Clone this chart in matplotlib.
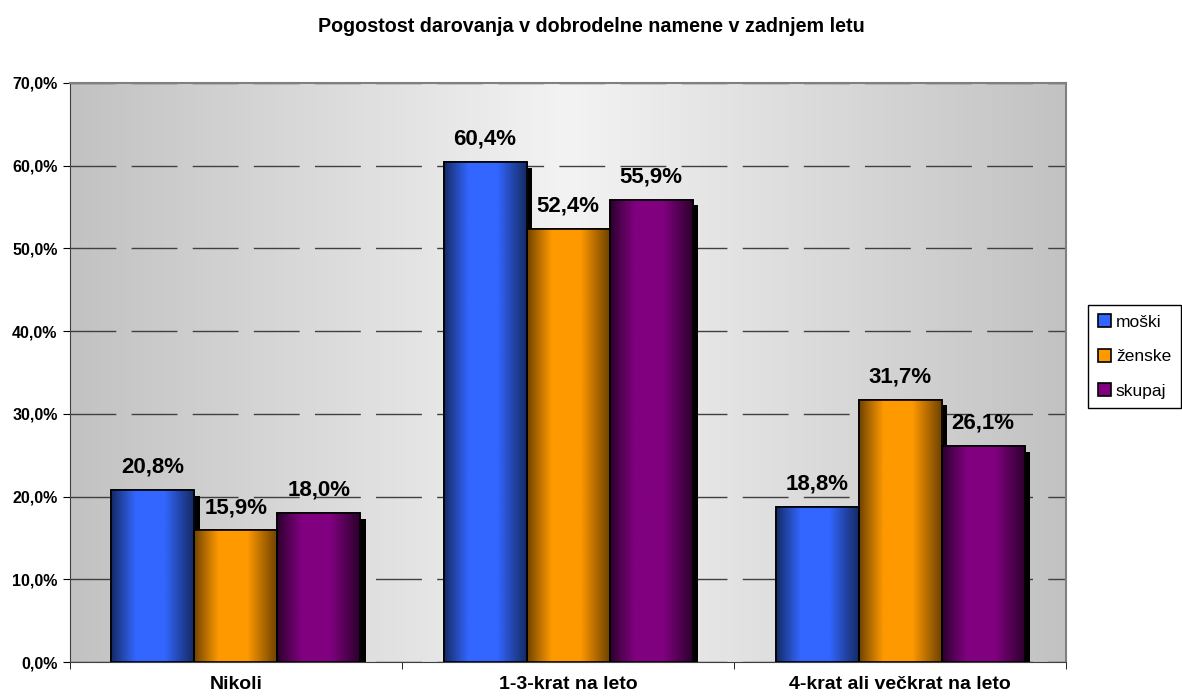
import numpy as np
import matplotlib.pyplot as plt
import matplotlib.patheffects as pe
from matplotlib.colors import LinearSegmentedColormap

# Podatki
kategorije = ['Nikoli', '1-3-krat na leto', '4-krat ali večkrat na leto']
moski = [20.8, 60.4, 18.8]
zenske = [15.9, 52.4, 31.7]
skupaj = [18.0, 55.9, 26.1]
serije = ['moški', 'ženske', 'skupaj']
barve = ['#3366ff', '#ff9900', '#800080']
temne = ['#14285f', '#6b4000', '#2a002a']

plt.rcParams['font.family'] = 'Liberation Sans'

fig = plt.figure(figsize=(11.82, 6.99), dpi=100)
ax = fig.add_axes([0.0592, 0.0529, 0.8427, 0.8284])

# ozadje z gradientom (sivo - belo - sivo)
grad = np.linspace(0, 1, 256).reshape(1, -1)
cm_bg = LinearSegmentedColormap.from_list('bg', ['#c2c2c2', '#f3f3f3', '#c2c2c2'])
ax.imshow(grad, extent=[-0.5, 2.5, 0, 70], aspect='auto', cmap=cm_bg, zorder=0)

x = np.arange(len(kategorije))
w = 0.25
for i, (vals, col, dark, name) in enumerate(zip([moski, zenske, skupaj], barve, temne, serije)):
    pos = x + (i - 1) * w
    bars = ax.bar(pos, vals, w, color=col, edgecolor='black', linewidth=1.2, label=name, zorder=3,
                  path_effects=[pe.SimplePatchShadow(offset=(4, -4), shadow_rgbFace='black', alpha=1), pe.Normal()])
    cm_bar = LinearSegmentedColormap.from_list('b%d' % i, [dark, col, col, dark], N=256)
    for b, p, v in zip(bars, pos, vals):
        im = ax.imshow(np.linspace(0, 1, 256).reshape(1, -1) ** 0.9, extent=[p - w / 2, p + w / 2, 0, v],
                       aspect='auto', cmap=cm_bar, zorder=3.5)
        im.set_clip_path(b)
        ax.bar(p, v, w, fill=False, edgecolor='black', linewidth=1.2, zorder=4)
        ax.text(p, v + 1.5, ('%.1f%%' % v).replace('.', ','), ha='center', va='bottom',
                fontsize=16, fontweight='bold', zorder=5)

ax.set_xlim(-0.5, 2.5)
ax.set_ylim(0, 70)
ax.set_yticks(np.arange(0, 71, 10))
ax.set_yticklabels([('%.1f%%' % t).replace('.', ',') for t in np.arange(0, 71, 10)],
                   fontsize=11.5, fontweight='bold')
ax.yaxis.grid(True, color='#404040', linestyle=(0, (33, 11)), linewidth=1.0, zorder=1)
ax.set_axisbelow(True)

ax.set_xticks(x)
ax.set_xticklabels(kategorije, fontsize=14, fontweight='bold')
ax.tick_params(axis='x', length=0, pad=10)
ax.set_xticks([-0.5, 0.5, 1.5, 2.5], minor=True)
ax.tick_params(axis='x', which='minor', length=5, direction='out')
ax.tick_params(axis='y', length=5, direction='out', pad=4)

for s in ['top', 'right']:
    ax.spines[s].set_color('#808080')
    ax.spines[s].set_linewidth(1.5)
ax.spines['left'].set_color('#404040')
ax.spines['bottom'].set_color('#404040')

fig.suptitle('Pogostost darovanja v dobrodelne namene v zadnjem letu', y=0.975,
             fontsize=14.2, fontweight='bold')

leg = fig.legend(loc='center left', bbox_to_anchor=(0.9205, 0.49), borderaxespad=0,
                 fancybox=False, edgecolor='black', framealpha=1, handlelength=0.75,
                 handleheight=0.75, handletextpad=0.3, labelspacing=1.1, borderpad=0.55,
                 prop={'size': 12.5})
for h in leg.legend_handles:
    h.set_path_effects([])

fig.savefig('out.png', dpi=100)
